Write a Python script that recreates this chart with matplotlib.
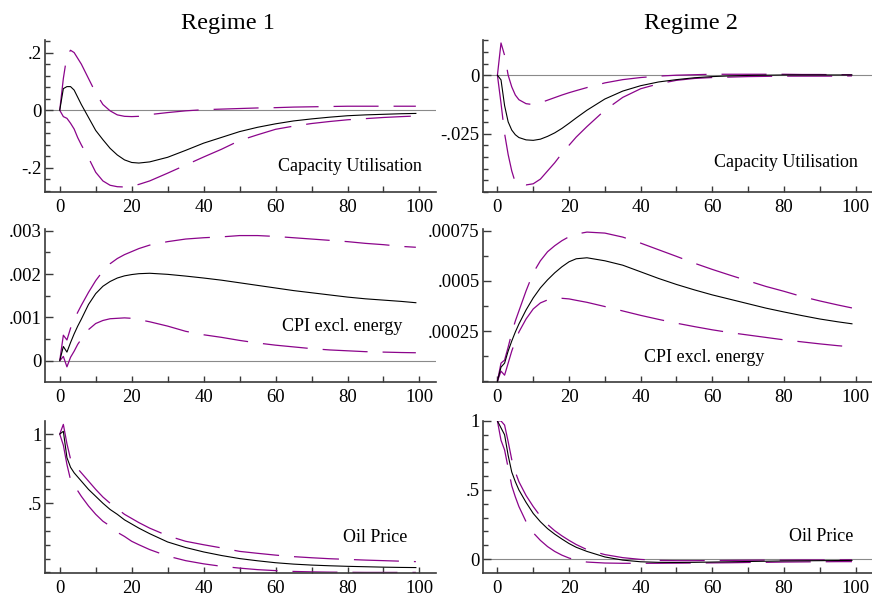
import numpy as np
import matplotlib
matplotlib.use("Agg")
import matplotlib.pyplot as plt
from matplotlib.ticker import FixedLocator, MultipleLocator

plt.rcParams['font.family'] = ['Liberation Serif', 'DejaVu Serif']

# horizons (months after the oil price shock)
horizon = [0, 1, 2, 3, 4, 5, 6, 8, 10, 12, 14, 16, 18, 20, 22, 25,
           30, 35, 40, 45, 50, 55, 60, 65, 70, 75, 80, 85, 90, 95, 99]

# Regime 1 - capacity utilisation
cu1_irf = [0, 0.075, 0.082, 0.082, 0.07, 0.045, 0.02, -0.025, -0.07, -0.102, -0.132, -0.155,
           -0.172, -0.181, -0.183, -0.179, -0.163, -0.139, -0.114, -0.094, -0.074, -0.059,
           -0.047, -0.037, -0.030, -0.024, -0.019, -0.016, -0.014, -0.012, -0.011]
cu1_hi = [0, 0.11, 0.19, 0.208, 0.2, 0.18, 0.16, 0.11, 0.06, 0.02, -0.002, -0.016, -0.021,
          -0.022, -0.021, -0.015, -0.008, -0.002, 0.002, 0.004, 0.006, 0.008, 0.009, 0.011,
          0.012, 0.013, 0.014, 0.014, 0.014, 0.014, 0.014]
cu1_lo = [0, -0.022, -0.028, -0.045, -0.065, -0.095, -0.12, -0.165, -0.215, -0.245, -0.26,
          -0.265, -0.266, -0.263, -0.257, -0.245, -0.218, -0.19, -0.162, -0.135, -0.105,
          -0.085, -0.066, -0.055, -0.046, -0.039, -0.033, -0.029, -0.025, -0.022, -0.02]

# Regime 2 - capacity utilisation
cu2_irf = [0, -0.002, -0.013, -0.02, -0.0235, -0.0255, -0.0267, -0.0277, -0.0279, -0.0274,
           -0.0262, -0.0247, -0.0228, -0.0206, -0.0183, -0.0150, -0.0102, -0.0068, -0.0045,
           -0.0029, -0.0019, -0.0011, -0.0006, -0.0003, -0.0001, 0.0, 0.0001, 0.0001,
           0.0001, 0.0001, 0.0001]
cu2_hi = [0, 0.0138, 0.0085, 0.0, -0.005, -0.0085, -0.0105, -0.0122, -0.0126, -0.0118,
          -0.0107, -0.0096, -0.0085, -0.0075, -0.0066, -0.0053, -0.0033, -0.0019, -0.001,
          -0.0004, 0.0, 0.0002, 0.0004, 0.0004, 0.0004, 0.0004, 0.0004, 0.0003, 0.0003,
          0.0002, 0.0002]
cu2_lo = [0, -0.012, -0.025, -0.034, -0.041, -0.046, -0.0465, -0.047, -0.0465, -0.0445,
          -0.041, -0.0375, -0.0335, -0.03, -0.0265, -0.022, -0.015, -0.0095, -0.0058,
          -0.0037, -0.0022, -0.0014, -0.001, -0.0008, -0.0006, -0.0005, -0.0004, -0.0004,
          -0.0004, -0.0004, -0.0003]

# Regime 1 - CPI excl. energy (x 1e-3)
cpi1_irf = [0, 0.33, 0.2, 0.42, 0.62, 0.8, 0.96, 1.3, 1.55, 1.72, 1.83, 1.91, 1.96, 1.99,
            2.01, 2.02, 1.995, 1.955, 1.91, 1.86, 1.80, 1.74, 1.68, 1.62, 1.57, 1.52, 1.47,
            1.43, 1.40, 1.37, 1.34]
cpi1_hi = [0, 0.59, 0.48, 0.75, 0.95, 1.12, 1.28, 1.58, 1.85, 2.07, 2.24, 2.36, 2.45, 2.52,
           2.59, 2.67, 2.75, 2.81, 2.84, 2.86, 2.89, 2.89, 2.87, 2.84, 2.81, 2.78, 2.75,
           2.71, 2.68, 2.64, 2.62]
cpi1_lo = [0, 0.1, -0.14, 0.08, 0.22, 0.38, 0.5, 0.72, 0.86, 0.93, 0.97, 0.98, 0.99, 0.98,
           0.95, 0.9, 0.8, 0.68, 0.6, 0.54, 0.47, 0.41, 0.36, 0.32, 0.28, 0.25, 0.23, 0.21,
           0.2, 0.19, 0.185]

# Regime 2 - CPI excl. energy (x 1e-4)
cpi2_irf = [0, 0.7, 0.9, 1.5, 2.0, 2.45, 2.85, 3.55, 4.15, 4.65, 5.05, 5.4, 5.7, 5.95, 6.1,
            6.15, 6.0, 5.78, 5.45, 5.12, 4.82, 4.55, 4.3, 4.08, 3.86, 3.64, 3.45, 3.27,
            3.1, 2.96, 2.86]
cpi2_hi = [0, 0.9, 1.05, 1.7, 2.4, 3.0, 3.5, 4.5, 5.4, 6.0, 6.45, 6.75, 7.0, 7.2, 7.33,
           7.43, 7.38, 7.18, 6.88, 6.55, 6.22, 5.88, 5.57, 5.28, 5.0, 4.72, 4.48, 4.22,
           4.0, 3.8, 3.65]
cpi2_lo = [0, 0.5, 0.3, 0.9, 1.5, 2.0, 2.45, 3.1, 3.6, 3.9, 4.05, 4.12, 4.13, 4.1, 4.03,
           3.93, 3.72, 3.5, 3.28, 3.08, 2.89, 2.72, 2.56, 2.42, 2.3, 2.18, 2.06, 1.96,
           1.86, 1.77, 1.71]

# Regime 1 - oil price
oil1_irf = [1.0, 1.02, 0.83, 0.76, 0.72, 0.69, 0.66, 0.6, 0.55, 0.5, 0.455, 0.42, 0.38,
            0.35, 0.32, 0.28, 0.22, 0.18, 0.148, 0.122, 0.1, 0.084, 0.07, 0.06, 0.053,
            0.048, 0.044, 0.041, 0.038, 0.036, 0.035]
oil1_hi = [1.0, 1.07, 0.93, 0.82, 0.78, 0.75, 0.72, 0.66, 0.6, 0.545, 0.5, 0.46, 0.42,
           0.39, 0.36, 0.32, 0.265, 0.225, 0.2, 0.177, 0.152, 0.138, 0.125, 0.114, 0.106,
           0.099, 0.094, 0.089, 0.085, 0.081, 0.078]
oil1_lo = [1.0, 0.92, 0.78, 0.67, 0.62, 0.59, 0.55, 0.48, 0.42, 0.37, 0.335, 0.29, 0.26,
           0.225, 0.2, 0.165, 0.118, 0.085, 0.062, 0.044, 0.031, 0.02, 0.013, 0.007,
           0.004, 0.002, 0.001, 0.0, 0.0, 0.0, 0.0]

# Regime 2 - oil price
oil2_irf = [1.0, 0.95, 0.9, 0.75, 0.63, 0.56, 0.5, 0.41, 0.33, 0.27, 0.22, 0.18, 0.145,
            0.112, 0.085, 0.055, 0.015, -0.008, -0.02, -0.024, -0.025, -0.024, -0.022,
            -0.02, -0.018, -0.016, -0.014, -0.013, -0.012, -0.011, -0.01]
oil2_hi = [1.0, 1.0, 0.97, 0.85, 0.72, 0.63, 0.56, 0.46, 0.38, 0.31, 0.25, 0.205, 0.168,
           0.135, 0.105, 0.068, 0.032, 0.01, -0.003, -0.01, -0.012, -0.012, -0.011, -0.01,
           -0.009, -0.008, -0.008, -0.007, -0.007, -0.006, -0.006]
oil2_lo = [1.0, 0.86, 0.79, 0.66, 0.53, 0.45, 0.38, 0.27, 0.19, 0.135, 0.09, 0.055, 0.028,
           0.007, -0.008, -0.022, -0.029, -0.031, -0.031, -0.031, -0.03, -0.029, -0.028,
           -0.027, -0.025, -0.024, -0.022, -0.021, -0.02, -0.019, -0.019]

titles = ["Regime 1", "Regime 2"]
x_ticks = [0, 20, 40, 60, 80, 100]
x_labels = ["0", "20", "40", "60", "80", "100"]

cu1_ticks, cu1_labels = [-0.2, 0, 0.2], ["-.2", "0", ".2"]
cu2_ticks, cu2_labels = [-0.025, 0], ["-.025", "0"]
cpi1_ticks, cpi1_labels = [0, 0.001, 0.002, 0.003], ["0", ".001", ".002", ".003"]
cpi2_ticks, cpi2_labels = [0.00025, 0.0005, 0.00075], [".00025", ".0005", ".00075"]
oil1_ticks, oil1_labels = [0.5, 1], [".5", "1"]
oil2_ticks, oil2_labels = [0, 0.5, 1], ["0", ".5", "1"]

PURPLE = "#8b048b"
SPINE = "#3a3a3a"

fig = plt.figure(figsize=(8.72, 5.95), dpi=100)

# left, bottom, width, height for each panel (figure fraction)
col_x = [(0.0516, 0.4484), (0.5536, 0.4464)]
row_y = [(0.677, 0.2555), (0.358, 0.257), (0.0375, 0.2555)]

panels = [
    # row, col, irf, hi, lo, scale, ylim, ticks, labels, minor, name, text pos, zero line
    (0, 0, cu1_irf, cu1_hi, cu1_lo, 1.0, (-0.284, 0.243), cu1_ticks, cu1_labels, 0.04,
     "Capacity Utilisation", (0.964, 0.171), True),
    (0, 1, cu2_irf, cu2_hi, cu2_lo, 1.0, (-0.0501, 0.015), cu2_ticks, cu2_labels, 0.005,
     "Capacity Utilisation", (0.964, 0.197), True),
    (1, 0, cpi1_irf, cpi1_hi, cpi1_lo, 1e-3, (-0.00049, 0.00304), cpi1_ticks, cpi1_labels,
     0.0005, "CPI excl. energy", (0.913, 0.361), True),
    (1, 1, cpi2_irf, cpi2_hi, cpi2_lo, 1e-4, (-0.000004, 0.000758), cpi2_ticks, cpi2_labels,
     0.000125, "CPI excl. energy", (0.723, 0.157), False),
    (2, 0, oil1_irf, oil1_hi, oil1_lo, 1.0, (-0.002, 1.097), oil1_ticks, oil1_labels, 0.1,
     "Oil Price", (0.928, 0.234), False),
    (2, 1, oil2_irf, oil2_hi, oil2_lo, 1.0, (-0.099, 1.002), oil2_ticks, oil2_labels, 0.1,
     "Oil Price", (0.951, 0.237), True),
]

x = np.array(horizon)
for (r, c, irf, hi, lo, scale, ylim, yt, yl, minor, name, tpos, zero) in panels:
    left, width = col_x[c]
    bottom, height = row_y[r]
    ax = fig.add_axes([left, bottom, width, height])
    if zero:
        ax.axhline(0, color="#8a8a8a", lw=0.8, zorder=1)
    ax.plot(x, np.array(hi) * scale, color=PURPLE, lw=0.9, dashes=(36, 12), zorder=2)
    ax.plot(x, np.array(lo) * scale, color=PURPLE, lw=0.9, dashes=(36, 12), zorder=2)
    ax.plot(x, np.array(irf) * scale, color="black", lw=0.8, zorder=3)

    ax.set_xlim(-4.1, 104.6)
    ax.set_ylim(*ylim)
    ax.xaxis.set_major_locator(FixedLocator(x_ticks))
    ax.set_xticklabels(x_labels)
    ax.xaxis.set_minor_locator(MultipleLocator(10))
    ax.yaxis.set_major_locator(FixedLocator(yt))
    ax.set_yticklabels(yl)
    ax.yaxis.set_minor_locator(MultipleLocator(minor))

    for side in ["top", "right"]:
        ax.spines[side].set_visible(False)
    for side in ["left", "bottom"]:
        ax.spines[side].set_color(SPINE)
        ax.spines[side].set_linewidth(1.2)
    ax.tick_params(which="both", direction="in", color=SPINE, width=1.0, labelsize=13.5)
    ax.tick_params(axis="y", which="major", length=5.5, pad=2.3)
    ax.tick_params(axis="y", which="minor", length=3.5)
    ax.tick_params(axis="x", which="both", length=4.5, pad=5)
    ax.patch.set_alpha(0)

    ax.text(tpos[0], tpos[1], name, transform=ax.transAxes, ha="right", va="center",
            fontsize=13)

fig.text(0.2615, 0.961, titles[0], ha="center", va="center", fontsize=17.5)
fig.text(0.7924, 0.961, titles[1], ha="center", va="center", fontsize=17.5)

fig.savefig("out.png", dpi=100)
